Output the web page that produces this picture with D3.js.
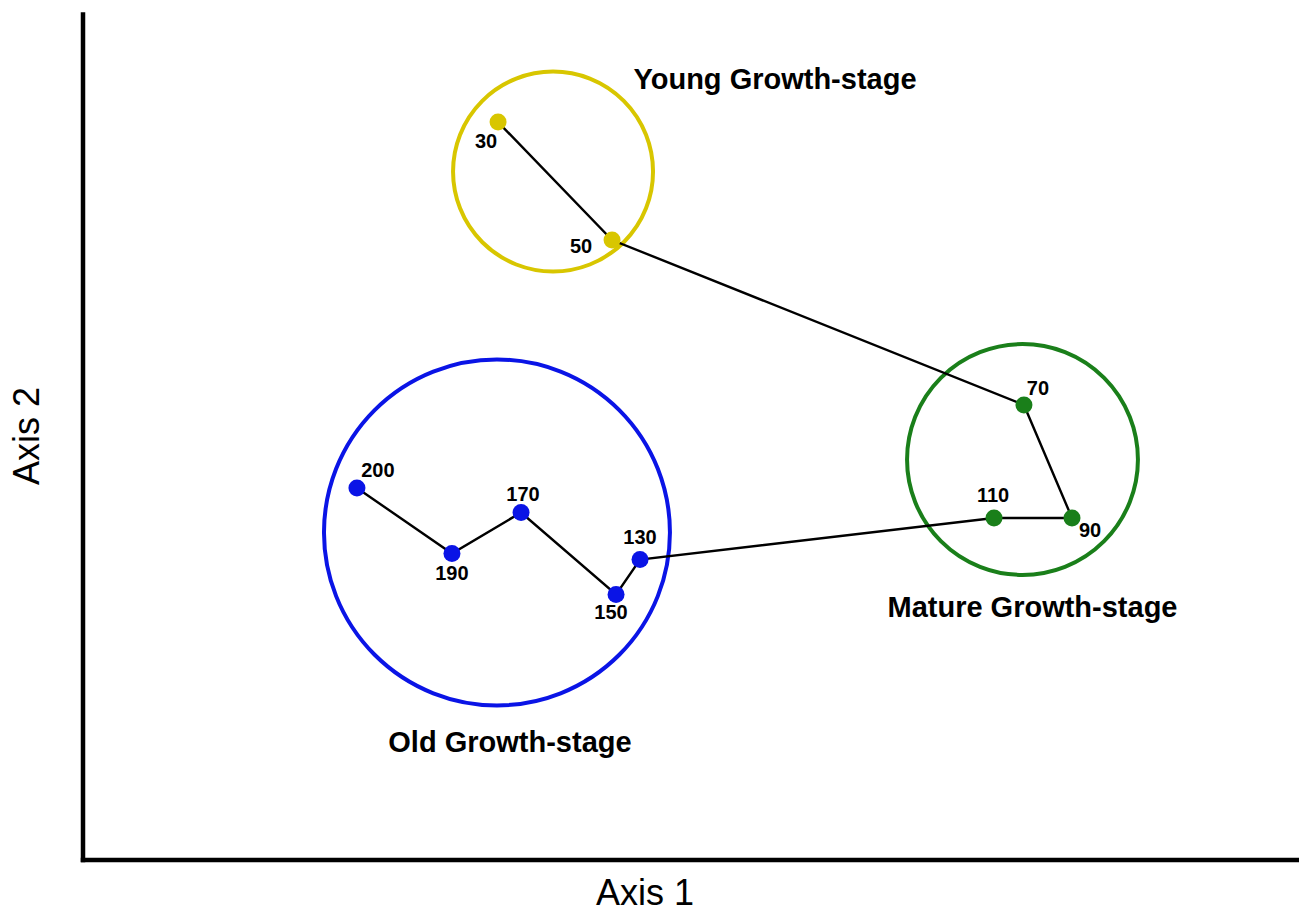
<!DOCTYPE html>
<html>
<head>
<meta charset="utf-8">
<script src="https://cdn.jsdelivr.net/npm/d3@7"></script>
<style>
  html, body { margin: 0; padding: 0; background: #ffffff; }
  svg { display: block; }
</style>
</head>
<body>
<svg id="chart" width="1299" height="913"></svg>
<script>
// ---- data ----
const sampleLabels = ["30", "50", "70", "90", "110", "130", "150", "170", "190", "200"];
const axis1Values  = [34.16, 43.53, 77.39, 81.34, 74.93, 45.83, 43.86, 36.05, 30.37, 22.56];
const axis2Values  = [87.22, 73.27, 53.76, 40.39, 40.39, 35.48, 31.34, 41.04, 36.19, 43.94];
const sampleStage  = ["Young", "Young", "Mature", "Mature", "Mature", "Old", "Old", "Old", "Old", "Old"];

const stageNames   = ["Young", "Mature", "Old"];
const stageTitles  = ["Young Growth-stage", "Mature Growth-stage", "Old Growth-stage"];
const stageCenterX = [38.68, 77.27, 34.07];
const stageCenterY = [81.37, 47.31, 38.68];
const stageRadius  = [8.22, 9.49, 14.22];

const axisTitles = ["Axis 1", "Axis 2"];

// ---- styles / layout ----
const stageColor = { Young: "#d8c600", Mature: "#1a7f1a", Old: "#0a14e6" };
// label offsets relative to the point (dx, baseline dy)
const labelOffset = {
  "30": [-12, 26], "50": [-31, 13], "70": [14, -10], "90": [18, 19], "110": [-1, -16],
  "130": [0, -16], "150": [-5, 24], "170": [2, -12], "190": [0, 26], "200": [21, -11]
};
// stage title placement relative to circle (dx, dy to baseline)
const titleOffset = { Young: [222, -83], Mature: [10, 158], Old: [13, 220] };

const svg = d3.select("#chart");
const x = d3.scaleLinear().domain([0, 100]).range([82.5, 1299]);
const y = d3.scaleLinear().domain([0, 100]).range([859.5, 14]);

const points = sampleLabels.map((l, i) => ({
  label: l, a1: axis1Values[i], a2: axis2Values[i], stage: sampleStage[i]
}));
const stages = stageNames.map((s, i) => ({
  name: s, title: stageTitles[i], cx: stageCenterX[i], cy: stageCenterY[i], r: stageRadius[i]
}));

// axes (domain lines only)
const gx = svg.append("g").attr("transform", `translate(0,${y(0)})`)
  .call(d3.axisBottom(x).ticks(0).tickSize(0).tickSizeOuter(0));
const gy = svg.append("g").attr("transform", `translate(${x(0)},0)`)
  .call(d3.axisLeft(y).ticks(0).tickSize(0).tickSizeOuter(0));
[gx, gy].forEach(g => {
  g.selectAll("text").remove();
  g.select(".domain").attr("stroke", "#000").attr("stroke-width", 4.5).attr("stroke-linecap", "square");
});

// axis titles
svg.append("text")
  .attr("x", 645).attr("y", 905)
  .attr("text-anchor", "middle")
  .attr("font-family", "'Liberation Sans', Arial, sans-serif")
  .attr("font-size", 36)
  .attr("fill", "#000")
  .text(axisTitles[0]);
svg.append("text")
  .attr("transform", "translate(39,436) rotate(-90)")
  .attr("text-anchor", "middle")
  .attr("font-family", "'Liberation Sans', Arial, sans-serif")
  .attr("font-size", 36)
  .attr("fill", "#000")
  .text(axisTitles[1]);

// stage circles
svg.append("g").selectAll("circle")
  .data(stages).join("circle")
  .attr("cx", d => x(d.cx))
  .attr("cy", d => y(d.cy))
  .attr("r", d => x(d.r) - x(0))
  .attr("fill", "none")
  .attr("stroke", d => stageColor[d.name])
  .attr("stroke-width", 4);

// stage titles
svg.append("g").selectAll("text")
  .data(stages).join("text")
  .attr("x", d => x(d.cx) + titleOffset[d.name][0])
  .attr("y", d => y(d.cy) + titleOffset[d.name][1])
  .attr("text-anchor", "middle")
  .attr("font-family", "'Liberation Sans', Arial, sans-serif")
  .attr("font-weight", "bold")
  .attr("font-size", 29)
  .attr("fill", "#000")
  .text(d => d.title);

// trajectory line
const line = d3.line().x(d => x(d.a1)).y(d => y(d.a2));
svg.append("path")
  .datum(points)
  .attr("d", line)
  .attr("fill", "none")
  .attr("stroke", "#000")
  .attr("stroke-width", 2.4);

// points
svg.append("g").selectAll("circle")
  .data(points).join("circle")
  .attr("cx", d => x(d.a1))
  .attr("cy", d => y(d.a2))
  .attr("r", 8.5)
  .attr("fill", d => stageColor[d.stage]);

// point labels
svg.append("g").selectAll("text")
  .data(points).join("text")
  .attr("x", d => x(d.a1) + labelOffset[d.label][0])
  .attr("y", d => y(d.a2) + labelOffset[d.label][1])
  .attr("text-anchor", "middle")
  .attr("font-family", "'Liberation Sans', Arial, sans-serif")
  .attr("font-weight", "bold")
  .attr("font-size", 20)
  .attr("fill", "#000")
  .text(d => d.label);
</script>
</body>
</html>
